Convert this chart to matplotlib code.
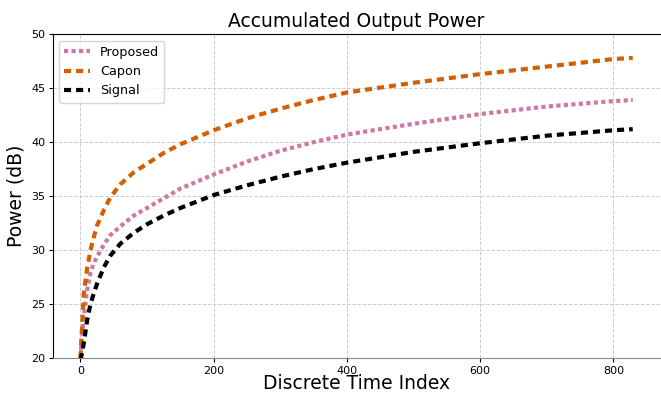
import numpy as np
import matplotlib.pyplot as plt

time_idx = [0, 2, 5, 10, 15, 20, 25, 35, 45, 60, 80, 100, 125, 150, 200,
            250, 300, 350, 400, 500, 600, 700, 800, 829]
proposed = [20.0, 22.0, 23.8, 26.3, 27.9, 28.8, 29.4, 30.5, 31.4, 32.2, 33.2,
            33.9, 34.8, 35.7, 37.0, 38.2, 39.2, 40.0, 40.7, 41.7, 42.6, 43.3,
            43.8, 43.9]
capon = [20.0, 22.5, 26.0, 28.3, 30.0, 31.2, 32.3, 33.7, 34.9, 36.1, 37.2,
         38.0, 39.0, 39.8, 41.1, 42.2, 43.1, 43.9, 44.6, 45.5, 46.3, 47.0,
         47.7, 47.8]
signal = [19.8, 20.4, 21.4, 23.5, 25.0, 26.0, 26.9, 28.4, 29.5, 30.6, 31.6,
          32.4, 33.2, 33.9, 35.1, 36.0, 36.8, 37.5, 38.1, 39.1, 39.9, 40.6,
          41.1, 41.2]


def main():
    fig = plt.figure(figsize=(6.61, 3.93), dpi=100)
    ax = fig.add_axes([0.080, 0.089, 0.919, 0.824])

    ax.plot(time_idx, proposed, linestyle=(0, (1, 0.8)), linewidth=3, color='#cc79a7', label='Proposed')
    ax.plot(time_idx, capon, linestyle=(0, (1.7, 1.2)), linewidth=3, color='#d55e00', label='Capon')
    ax.plot(time_idx, signal, linestyle=(0, (1.7, 1.2)), linewidth=3, color='black', label='Signal')

    ax.set_ylim(20, 50)
    ax.set_xticks([0, 200, 400, 600, 800])

    ax.grid(True, linestyle='--', color='#cccccc', linewidth=0.7)
    ax.spines['right'].set_visible(False)
    ax.spines['bottom'].set_color('#888888')
    ax.tick_params(labelsize=8, length=3, pad=2.5)

    ax.set_title('Accumulated Output Power', fontsize=13.5, pad=5)
    ax.set_xlabel('Discrete Time Index', fontsize=13.5, labelpad=-1)
    ax.set_ylabel('Power (dB)', fontsize=13.5, labelpad=4)
    ax.legend(loc='upper left', fontsize=9.2)

    fig.savefig('out.png', dpi=100)


if __name__ == '__main__':
    main()
